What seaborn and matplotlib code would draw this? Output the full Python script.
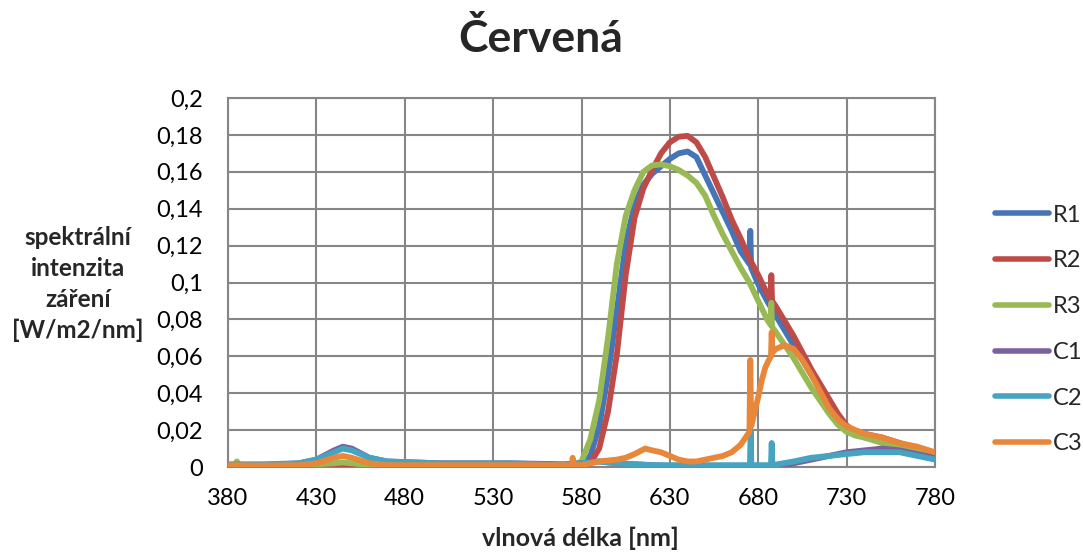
import numpy as np
import pandas as pd
import matplotlib
matplotlib.use("Agg")
import matplotlib.pyplot as plt
from matplotlib.lines import Line2D
import seaborn as sns

# Spectral irradiance of the "red" light source, six measurements [W/m2/nm]
r1_wl = [380, 385, 400, 420, 440, 445, 450, 470, 500, 530, 560, 575, 580, 585, 590, 595,
         600, 605, 610, 615, 620, 625, 630, 635, 640, 645, 650, 655, 660, 665, 670, 675,
         675.5, 676, 680, 685, 690, 695, 700, 705, 710, 715, 720, 725, 730, 735, 740, 750,
         760, 770, 780]
r1_val = [0.001, 0.001, 0.0008, 0.001, 0.0015, 0.002, 0.0015, 0.001, 0.001, 0.001, 0.0008,
          0.001, 0.0015, 0.006, 0.022, 0.050, 0.085, 0.121, 0.142, 0.153, 0.159, 0.163,
          0.167, 0.170, 0.171, 0.168, 0.158, 0.148, 0.138, 0.128, 0.117, 0.110, 0.128, 0.108,
          0.099, 0.090, 0.082, 0.074, 0.066, 0.058, 0.050, 0.042, 0.034, 0.026, 0.021, 0.018,
          0.016, 0.014, 0.012, 0.010, 0.007]

r2_wl = [380, 400, 420, 445, 470, 500, 540, 570, 580, 585, 590, 595, 600, 605, 610, 615,
         620, 625, 630, 635, 640, 645, 650, 655, 660, 665, 670, 675, 680, 685, 687, 687.4,
         687.8, 690, 695, 700, 705, 710, 715, 720, 725, 730, 735, 740, 750, 760, 770, 780]
r2_val = [0.0005, 0.0005, 0.0005, 0.001, 0.0005, 0.0005, 0.0005, 0.0005, 0.001, 0.002, 0.010,
          0.030, 0.061, 0.104, 0.135, 0.151, 0.161, 0.170, 0.176, 0.179, 0.1795, 0.176,
          0.168, 0.157, 0.146, 0.134, 0.124, 0.113, 0.104, 0.094, 0.091, 0.104, 0.090, 0.087,
          0.079, 0.071, 0.062, 0.053, 0.045, 0.037, 0.029, 0.0225, 0.019, 0.018, 0.016,
          0.013, 0.010, 0.006]

r3_wl = [380, 383, 385, 387, 400, 420, 440, 445, 450, 460, 500, 560, 575, 580, 585, 590,
         595, 600, 605, 610, 615, 620, 625, 630, 635, 640, 645, 650, 655, 660, 665, 670,
         675, 680, 685, 687, 687.4, 687.8, 690, 695, 700, 705, 710, 715, 720, 725, 730, 735,
         740, 750, 760, 770, 780]
r3_val = [0.0005, 0.0005, 0.003, 0.0005, 0.0005, 0.001, 0.002, 0.0025, 0.002, 0.001, 0.0005,
          0.0005, 0.001, 0.003, 0.015, 0.036, 0.070, 0.110, 0.136, 0.150, 0.160, 0.1635,
          0.164, 0.163, 0.161, 0.158, 0.154, 0.147, 0.136, 0.126, 0.117, 0.108, 0.100, 0.090,
          0.080, 0.077, 0.089, 0.076, 0.073, 0.066, 0.059, 0.051, 0.043, 0.036, 0.029, 0.023,
          0.019, 0.017, 0.016, 0.013, 0.010, 0.008, 0.006]

c1_wl = [380, 400, 420, 430, 440, 445, 450, 460, 470, 500, 540, 570, 580, 590, 600, 620,
         640, 660, 680, 690, 700, 710, 720, 730, 740, 750, 760, 770, 780]
c1_val = [0.001, 0.001, 0.002, 0.004, 0.009, 0.011, 0.010, 0.005, 0.003, 0.002, 0.002,
          0.0015, 0.002, 0.003, 0.002, 0.001, 0.0, 0.0, 0.0, 0.0005, 0.002, 0.004, 0.006,
          0.008, 0.009, 0.010, 0.009, 0.007, 0.005]

c2_wl = [380, 400, 420, 430, 440, 445, 450, 460, 470, 500, 540, 570, 580, 590, 600, 620,
         640, 660, 675.3, 675.7, 676.1, 687.2, 687.6, 688, 700, 710, 720, 730, 740, 750,
         760, 770, 780]
c2_val = [0.0015, 0.0015, 0.002, 0.004, 0.008, 0.010, 0.009, 0.005, 0.003, 0.002, 0.002,
          0.001, 0.002, 0.003, 0.002, 0.001, 0.001, 0.001, 0.001, 0.020, 0.001, 0.001, 0.013,
          0.001, 0.003, 0.005, 0.006, 0.007, 0.008, 0.008, 0.008, 0.006, 0.004]

c3_wl = [380, 400, 420, 430, 440, 445, 450, 460, 470, 500, 540, 570, 574.5, 575, 575.5,
         580, 590, 600, 605, 610, 616, 620, 625, 630, 635, 640, 645, 650, 655, 660, 665, 670,
         675, 675.5, 676, 678, 680, 682, 684, 686, 687.2, 687.6, 688, 690, 695, 700, 705,
         710, 715, 720, 725, 730, 735, 740, 750, 760, 770, 780]
c3_val = [0.001, 0.0008, 0.001, 0.002, 0.005, 0.006, 0.005, 0.002, 0.001, 0.001, 0.001,
          0.001, 0.001, 0.005, 0.001, 0.001, 0.003, 0.004, 0.005, 0.007, 0.010, 0.009, 0.008,
          0.006, 0.004, 0.003, 0.003, 0.004, 0.005, 0.006, 0.008, 0.012, 0.019, 0.058, 0.022,
          0.030, 0.038, 0.047, 0.054, 0.058, 0.060, 0.073, 0.062, 0.064, 0.066, 0.064, 0.058,
          0.050, 0.041, 0.032, 0.026, 0.022, 0.020, 0.018, 0.016, 0.013, 0.011, 0.008]

series_names = ["R1", "R2", "R3", "C1", "C2", "C3"]
series_colors = ["#4575B4", "#BE4B48", "#98B954", "#7D60A0", "#46A4C0", "#E8873A"]

x_ticks = [380, 430, 480, 530, 580, 630, 680, 730, 780]
y_ticks = [0, 0.02, 0.04, 0.06, 0.08, 0.1, 0.12, 0.14, 0.16, 0.18, 0.2]
y_tick_labels = ["0", "0,02", "0,04", "0,06", "0,08", "0,1", "0,12", "0,14", "0,16",
                 "0,18", "0,2"]

title_text = "Červená"
x_label = "vlnová délka [nm]"
y_label = "spektrální\nintenzita\nzáření\n[W/m2/nm]"

# long-form table for seaborn
frames = []
for name, wl, val in zip(series_names,
                         [r1_wl, r2_wl, r3_wl, c1_wl, c2_wl, c3_wl],
                         [r1_val, r2_val, r3_val, c1_val, c2_val, c3_val]):
    frames.append(pd.DataFrame({"wl": wl, "val": val, "series": name}))
df = pd.concat(frames, ignore_index=True)

grid_gray = "#868686"
sns.set_theme(style="white")
plt.rcParams["font.family"] = ["Lato", "DejaVu Sans"]

fig = plt.figure(figsize=(10.83, 5.54), dpi=100)
ax = fig.add_axes([228 / 1083, 1 - 467 / 554, (935 - 228) / 1083, (467 - 98) / 554])

sns.lineplot(data=df, x="wl", y="val", hue="series", hue_order=series_names,
             palette=dict(zip(series_names, series_colors)), sort=False, estimator=None,
             linewidth=4.2, legend=False, ax=ax, zorder=3)
for ln in ax.get_lines():
    ln.set_solid_capstyle("round")
    ln.set_solid_joinstyle("round")

ax.set_xlim(380, 780)
ax.set_ylim(0, 0.2)
ax.set_xticks(x_ticks)
ax.set_xticklabels([str(v) for v in x_ticks])
ax.set_yticks(y_ticks)
ax.set_yticklabels(y_tick_labels)
ax.grid(True, color=grid_gray, linewidth=1.5, zorder=0)
ax.set_axisbelow(True)
for sp in ax.spines.values():
    sp.set_color(grid_gray)
    sp.set_linewidth(1.5)
ax.tick_params(axis="both", which="major", direction="out", length=6, width=1.5,
               color=grid_gray, labelsize=17, labelcolor="black")
ax.tick_params(axis="x", pad=9)
ax.tick_params(axis="y", pad=12)
ax.set_xlabel("")
ax.set_ylabel("")

fig.text(580 / 1083, 1 - 538 / 554, x_label, ha="center", va="center",
         fontsize=18, fontweight="bold")
fig.text(78 / 1083, 1 - 284 / 554, y_label, ha="center", va="center",
         fontsize=17.5, fontweight="bold", linespacing=1.4)
fig.text(541 / 1083, 1 - 38 / 554, title_text, ha="center", va="center",
         fontsize=32, fontweight="bold")

handles = [Line2D([0], [0], color=c, linewidth=4.0, solid_capstyle="round")
           for c in series_colors]
fig.legend(handles, series_names, loc="center left",
           bbox_to_anchor=(995 / 1083, 1 - 329.5 / 554), frameon=False,
           fontsize=17, handlelength=2.3, handletextpad=0.15, labelspacing=1.05,
           borderpad=0, borderaxespad=0)

fig.savefig("out.png", dpi=100, facecolor="white")
